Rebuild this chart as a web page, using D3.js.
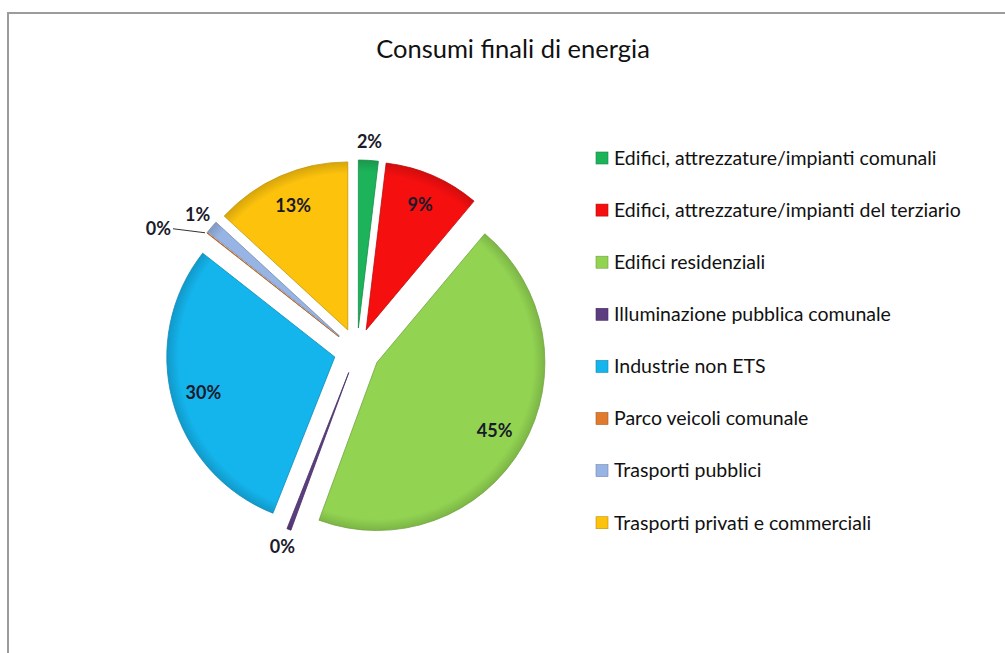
<!DOCTYPE html>
<html>
<head>
<meta charset="utf-8">
<script src="https://cdn.jsdelivr.net/npm/d3@7"></script>
<style>
  html, body { margin: 0; padding: 0; background: #fff; }
  svg { display: block; }
</style>
</head>
<body>
<svg id="chart" width="1005" height="653"></svg>
<script>
// ---- data ----
const title = "Consumi finali di energia";
const categories = [
  "Edifici, attrezzature/impianti comunali",
  "Edifici, attrezzature/impianti del terziario",
  "Edifici residenziali",
  "Illuminazione pubblica comunale",
  "Industrie non ETS",
  "Parco veicoli comunale",
  "Trasporti pubblici",
  "Trasporti privati e commerciali"
];
const values = [1.9, 9.2, 44.5, 0.4, 29.6, 0.05, 1.2, 13.15];
const colors = ["#1db35b", "#f50f0f", "#92d452", "#5c3d80", "#14b4ec", "#e07a2c", "#97b4e4", "#fcc20c"];
const labelPlacement = ["outside", "inside", "inside", "outside", "inside", "leader", "outside", "inside"];

// ---- layout ----
const svg = d3.select("#chart");
const W = 1005, H = 653;
const cx = 357, cy = 351, R = 168, explode = 23;

// frame
svg.append("rect").attr("x", 8).attr("y", 13).attr("width", W + 10).attr("height", H + 10)
  .attr("fill", "#fff").attr("stroke", "#9c9c9c").attr("stroke-width", 2);

svg.append("text").attr("x", 513).attr("y", 58).attr("text-anchor", "middle")
  .attr("font-family", "Lato, 'Open Sans', sans-serif").attr("font-size", 25.5)
  .attr("fill", "#111").text(title);

const total = d3.sum(values);
const pie = d3.pie().sort(null).value(d => d)(values);
const arc = d3.arc().innerRadius(0).outerRadius(R);

const defs = svg.append("defs");
colors.forEach((c, i) => {
  const g = defs.append("radialGradient").attr("id", "g" + i)
    .attr("gradientUnits", "userSpaceOnUse").attr("cx", 0).attr("cy", 0).attr("r", R);
  g.append("stop").attr("offset", "0%").attr("stop-color", c);
  g.append("stop").attr("offset", "93%").attr("stop-color", c);
  g.append("stop").attr("offset", "100%").attr("stop-color", d3.color(c).darker(0.45));
});

const dir = a => [Math.sin(a), -Math.cos(a)];

const gPie = svg.append("g").attr("transform", `translate(${cx},${cy})`);
const slices = gPie.selectAll("g.slice").data(pie).enter().append("g")
  .attr("class", "slice")
  .attr("transform", d => {
    const m = (d.startAngle + d.endAngle) / 2, [dx, dy] = dir(m);
    return `translate(${dx * explode},${dy * explode})`;
  });

slices.append("path")
  .attr("d", arc)
  .attr("fill", (d, i) => `url(#g${i})`)
  .attr("stroke", (d, i) => d3.color(colors[i]).darker(0.7))
  .attr("stroke-width", 0.8)
  .attr("stroke-linejoin", "round");

// labels
const lblFont = "Lato, 'Open Sans', sans-serif";
slices.each(function(d, i) {
  const g = d3.select(this);
  const m = (d.startAngle + d.endAngle) / 2, [dx, dy] = dir(m);
  const txt = Math.round(d.value / total * 100) + "%";
  let x, y, anchor = "middle";
  if (labelPlacement[i] === "inside") {
    x = dx * R * 0.81; y = dy * R * 0.81;
  } else if (labelPlacement[i] === "outside") {
    x = dx * R * 1.11; y = dy * R * 1.11;
  } else {
    const ox = dx * R, oy = dy * R;
    const lx = ox - 34, ly = oy - 4;
    g.append("line").attr("x1", ox - 2).attr("y1", oy).attr("x2", lx).attr("y2", ly)
      .attr("stroke", "#333").attr("stroke-width", 1);
    x = lx - 2; y = ly; anchor = "end";
  }
  g.append("text").attr("x", x).attr("y", y).attr("dy", "0.35em")
    .attr("text-anchor", anchor)
    .attr("font-family", lblFont).attr("font-weight", "bold").attr("font-size", 18)
    .attr("fill", "#1a1a2a").text(txt);
});

// legend
const legend = svg.append("g");
const ly0 = 158, lstep = 52.1;
categories.forEach((c, i) => {
  const y = ly0 + i * lstep;
  legend.append("rect").attr("x", 596).attr("y", y - 6).attr("width", 12).attr("height", 12)
    .attr("fill", colors[i]).attr("stroke", d3.color(colors[i]).darker(0.8)).attr("stroke-width", 0.6);
  legend.append("text").attr("x", 614).attr("y", y).attr("dy", "0.35em")
    .attr("font-family", lblFont).attr("font-size", 19.5).attr("fill", "#111").text(c);
});
</script>
</body>
</html>
